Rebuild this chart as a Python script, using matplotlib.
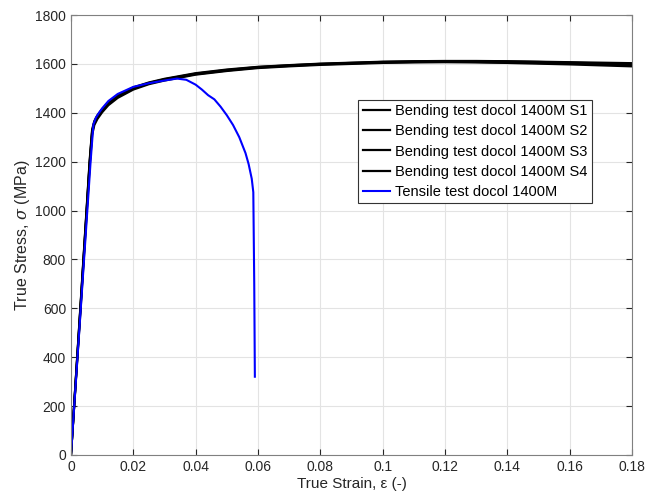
import numpy as np
import matplotlib.pyplot as plt

plt.rcParams['font.family'] = ['Liberation Sans', 'DejaVu Sans']
plt.rcParams['mathtext.fontset'] = 'custom'
plt.rcParams['mathtext.it'] = 'DejaVu Serif:italic'

# bending tests (shared strain grid)
strain_b = [0, 0.003, 0.006, 0.0068, 0.0075, 0.0085, 0.01, 0.012, 0.015, 0.02, 0.025,
            0.03, 0.04, 0.05, 0.06, 0.07, 0.08, 0.09, 0.10, 0.11, 0.12, 0.13,
            0.14, 0.15, 0.16, 0.17, 0.18]
s1 = [0, 590, 1190, 1320, 1358, 1382, 1408, 1436, 1465, 1499, 1520, 1535, 1558, 1573,
      1585, 1592, 1598, 1602, 1606, 1608, 1609, 1608, 1606, 1604, 1601, 1598, 1594]
s2 = [0, 600, 1205, 1332, 1366, 1390, 1415, 1442, 1471, 1504, 1524, 1539, 1562, 1577,
      1588, 1595, 1601, 1605, 1609, 1611, 1612, 1612, 1611, 1609, 1607, 1605, 1603]
s3 = [0, 580, 1180, 1310, 1350, 1375, 1402, 1431, 1461, 1495, 1517, 1532, 1556, 1571,
      1583, 1590, 1596, 1600, 1604, 1606, 1607, 1606, 1604, 1601, 1598, 1594, 1590]
s4 = [0, 595, 1198, 1326, 1362, 1386, 1412, 1439, 1468, 1502, 1522, 1537, 1560, 1575,
      1587, 1594, 1600, 1604, 1608, 1610, 1611, 1611, 1610, 1608, 1605, 1602, 1599]
bend_labels = ["Bending test docol 1400M S1", "Bending test docol 1400M S2",
               "Bending test docol 1400M S3", "Bending test docol 1400M S4"]

# tensile test
strain_t = [0, 0.003, 0.0063, 0.0072, 0.008, 0.009, 0.01, 0.012, 0.015, 0.02, 0.025,
            0.03, 0.034, 0.037, 0.04, 0.042, 0.044, 0.046, 0.048, 0.05, 0.052,
            0.054, 0.056, 0.057, 0.058, 0.0585, 0.0588, 0.059]
stress_t = [0, 570, 1200, 1352, 1380, 1400, 1418, 1448, 1477, 1506, 1521, 1532, 1540,
            1535, 1515, 1495, 1472, 1455, 1425, 1390, 1350, 1300, 1235, 1190, 1130,
            1075, 700, 320]

fig = plt.figure(figsize=(6.57, 5.01), dpi=100)
ax = fig.add_axes([0.108, 0.092, 0.854, 0.878])

for s, lab in zip([s1, s2, s3, s4], bend_labels):
    ax.plot(strain_b, s, color='black', lw=1.6, label=lab)
ax.plot(strain_t, stress_t, color='#0000ff', lw=1.5, label="Tensile test docol 1400M")

ax.set_xlim(0, 0.18)
ax.set_ylim(0, 1800)
ax.set_xticks(np.arange(0, 0.181, 0.02))
ax.set_xticklabels(["0", "0.02", "0.04", "0.06", "0.08", "0.1", "0.12", "0.14", "0.16", "0.18"])
ax.set_yticks(np.arange(0, 1801, 200))
ax.grid(True, color='#e3e3e3', lw=0.8)
ax.set_axisbelow(True)
ax.tick_params(direction='in', top=True, right=True, length=4, labelsize=10,
               colors='#262626', width=0.8)
for sp in ax.spines.values():
    sp.set_color('#808080')
    sp.set_linewidth(0.8)

ax.set_xlabel("True Strain, ε (-)", fontsize=11, color='#262626', labelpad=2)
ax.set_ylabel(r"True Stress, $\sigma$ (MPa)", fontsize=11.5, color='#262626', labelpad=2)

leg = ax.legend(loc='upper right', bbox_to_anchor=(0.929, 0.807), fontsize=10.5,
                fancybox=False, edgecolor='#333333', framealpha=1, handlelength=1.9,
                borderpad=0.3, labelspacing=0.42, handletextpad=0.35, borderaxespad=0)
leg.get_frame().set_linewidth(0.8)

fig.savefig("out.png", dpi=100)
